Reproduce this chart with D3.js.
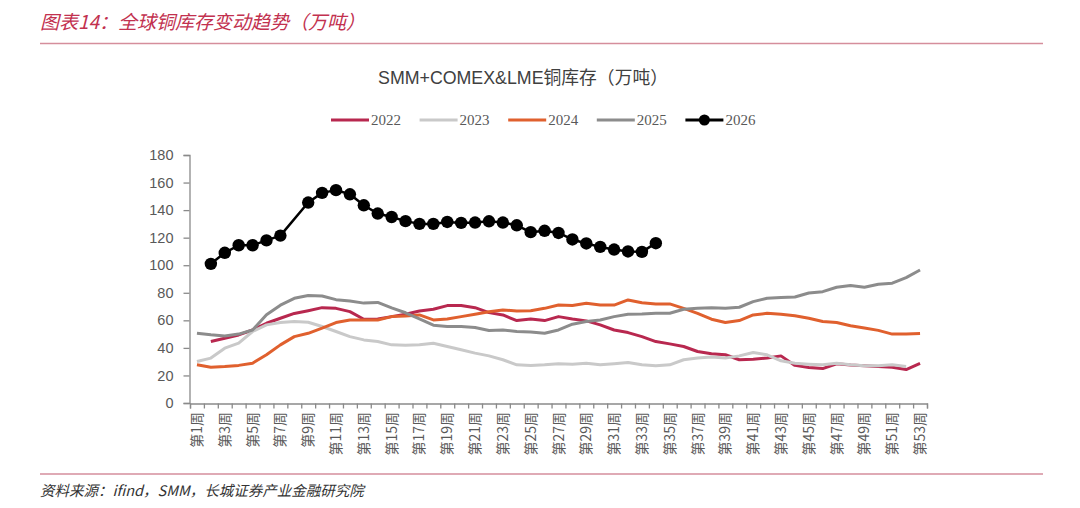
<!DOCTYPE html>
<html><head><meta charset="utf-8">
<script src="https://cdn.jsdelivr.net/npm/d3@7"></script>
<style>
html,body{margin:0;padding:0;background:#fff;}
svg{display:block;}
</style></head>
<body>
<svg id="chart" width="1080" height="508"></svg>
<script>
// ---- data ----
const weeks = d3.range(1, 54);
const weekLabels = weeks.map(w => "第" + w + "周");
const yTicks = [0, 20, 40, 60, 80, 100, 120, 140, 160, 180];
const seriesNames = ["2022", "2023", "2024", "2025", "2026"];

const v2022 = [null,44.6,47,49.4,53,57.9,61.5,65,67,69.2,68.7,66.3,60.8,61,62.7,64.4,66.8,68,70.7,70.7,69.2,65.6,63.9,59.8,61,59.8,62.7,61,59.6,56.7,53,51.1,48.2,44.6,42.9,41,37.4,35.7,35,31.4,31.8,32.6,34.2,27.3,25.8,25,28.5,27.5,27,26.5,26,24.3,28.7];
const v2023 = [30.1,32.6,39.8,43.4,51.9,56.7,58.4,59.1,58.6,55.5,51.9,48.2,45.8,44.6,42.2,42,42.2,43.4,41,38.6,36.2,34.2,31.4,27.7,27.3,27.7,28.5,28.2,28.9,27.7,28.5,29.4,27.7,27,27.7,31.4,32.6,33.3,32.6,34.2,36.7,35,30.6,28.9,28.2,27.7,28.9,27.7,27,27,27.7,26.5,null];
const v2024 = [27.7,26,26.5,27.3,28.9,35,42.2,48.2,50.6,54.3,58.4,60.3,60.3,60.3,62.7,63.2,63.9,60.3,61,62.7,64.4,66.3,67.5,66.8,67,68.7,71.1,70.7,72.4,71.1,71.1,74.8,72.8,71.9,71.9,68.7,65.1,60.8,58.4,59.8,63.9,65.1,64.4,63.3,61.5,59.1,58.4,56.1,54.5,52.7,50,50,50.5];
const v2025 = [50.6,49.5,48.7,50,53,64,71,76,78,77.7,75,74,72.5,73,69,65.5,61,56.5,55.5,55.5,54.8,52.6,53,51.9,51.5,50.6,53,57.2,59.1,60.3,62.7,64.4,64.6,65.1,65.1,68,68.7,69.2,68.7,69.5,73.6,76,76.5,76.9,79.8,80.8,84,85.3,84,86.2,87,91,96.5];
const v2026 = [null,101,109,114.5,114.5,118,121.5,null,145.5,152.5,154.5,151.5,143.5,137.5,135,132,130,130,131.4,130.7,131,131.9,131,129,124,125,123.4,118.7,115.8,113.3,111.4,110,109.7,116,
  null,null,null,null,null,null,null,null,null,null,null,null,null,null,null,null,null,null,null];

const seriesValues = [v2022, v2023, v2024, v2025, v2026];
const seriesColors = ["#B8284F", "#C9C9C9", "#E0602E", "#8C8C8C", "#000000"];

// ---- layout ----
const svg = d3.select("#chart");
const plotLeft = 190, plotRight = 927, plotTop = 155, plotBottom = 403;

const x = d3.scaleBand().domain(weeks).range([plotLeft, plotRight]).padding(0);
const xEdge = d3.scaleLinear().domain([0, weeks.length]).range([plotLeft, plotRight]);
const y = d3.scaleLinear().domain([0, 180]).range([plotBottom, plotTop]);
const cx = w => x(w) + x.bandwidth() / 2;

// header
svg.append("text").attr("x", 40).attr("y", 29)
  .attr("font-family", "'Noto Sans CJK SC', sans-serif").attr("font-size", 19)
  .attr("font-style", "italic").attr("fill", "#C2314F")
  .text("图表14：全球铜库存变动趋势（万吨）");
svg.append("line").attr("x1", 40).attr("x2", 1043).attr("y1", 43.5).attr("y2", 43.5)
  .attr("stroke", "#D58E9C").attr("stroke-width", 1.5);

// chart title
svg.append("text").attr("x", 523).attr("y", 84).attr("text-anchor", "middle")
  .attr("font-family", "'Liberation Sans', 'Noto Sans CJK SC', sans-serif").attr("font-size", 17.8)
  .attr("fill", "#404040")
  .text("SMM+COMEX&LME铜库存（万吨）");

// legend
const legend = svg.append("g").attr("transform", "translate(331,120)");
seriesNames.forEach((name, i) => {
  const g = legend.append("g").attr("transform", `translate(${i * 88.6},0)`);
  g.append("line").attr("x1", 0).attr("x2", 38).attr("y1", 0).attr("y2", 0)
    .attr("stroke", seriesColors[i]).attr("stroke-width", 3);
  if (i === 4) g.append("circle").attr("cx", 19).attr("cy", 0).attr("r", 5.5).attr("fill", "#000");
  g.append("text").attr("x", 40).attr("y", 5)
    .attr("font-family", "'Liberation Serif', serif").attr("font-size", 15)
    .attr("fill", "#595959").text(name);
});

// y axis
const yAxis = svg.append("g").attr("transform", `translate(${plotLeft - 0.5},0)`)
  .call(d3.axisLeft(y).tickValues(yTicks).tickSize(6).tickPadding(10));
yAxis.select(".domain").attr("stroke", "#8a8a8a").attr("stroke-width", 1.3);
yAxis.selectAll(".tick line").attr("stroke", "#8a8a8a").attr("stroke-width", 1.3);
yAxis.selectAll(".tick text").attr("font-family", "'Liberation Sans', Arial, sans-serif")
  .attr("font-size", 14.5).attr("fill", "#595959");

// x axis ticks (category boundaries)
const xAxis = svg.append("g").attr("transform", `translate(0,${plotBottom + 0.5})`)
  .call(d3.axisBottom(xEdge).tickValues(d3.range(0, weeks.length + 1)).tickSize(5).tickFormat(""));
xAxis.select(".domain").attr("stroke", "#8a8a8a").attr("stroke-width", 1.3);
xAxis.selectAll(".tick line").attr("stroke", "#8a8a8a").attr("stroke-width", 1.3);

// x labels (every other week), rotated
svg.append("g").selectAll("text")
  .data(weeks.filter(w => w % 2 === 1))
  .join("text")
  .attr("transform", w => `translate(${cx(w) + 5},412) rotate(-90)`)
  .attr("text-anchor", "end")
  .attr("font-family", "'Noto Sans CJK SC', sans-serif")
  .attr("font-size", 14).attr("fill", "#595959")
  .text(w => weekLabels[w - 1]);

// lines
const line = d3.line().x(d => cx(d.w)).y(d => y(d.v));
seriesValues.forEach((vals, i) => {
  const pts = vals.map((v, k) => ({ w: weeks[k], v })).filter(d => d.v != null);
  svg.append("path").datum(pts).attr("d", line)
    .attr("fill", "none").attr("stroke", seriesColors[i])
    .attr("stroke-width", i === 4 ? 2.5 : 3).attr("stroke-linejoin", "round");
  if (i === 4) {
    svg.append("g").selectAll("circle").data(pts).join("circle")
      .attr("cx", d => cx(d.w)).attr("cy", d => y(d.v)).attr("r", 6.2).attr("fill", "#000");
  }
});

// footer
svg.append("line").attr("x1", 40).attr("x2", 1043).attr("y1", 474).attr("y2", 474)
  .attr("stroke", "#D58E9C").attr("stroke-width", 1.5);
svg.append("text").attr("x", 40).attr("y", 496)
  .attr("font-family", "'Noto Sans CJK SC', sans-serif").attr("font-size", 14.5)
  .attr("font-style", "italic").attr("fill", "#333")
  .text("资料来源：ifind，SMM，长城证券产业金融研究院");
</script>
</body></html>
